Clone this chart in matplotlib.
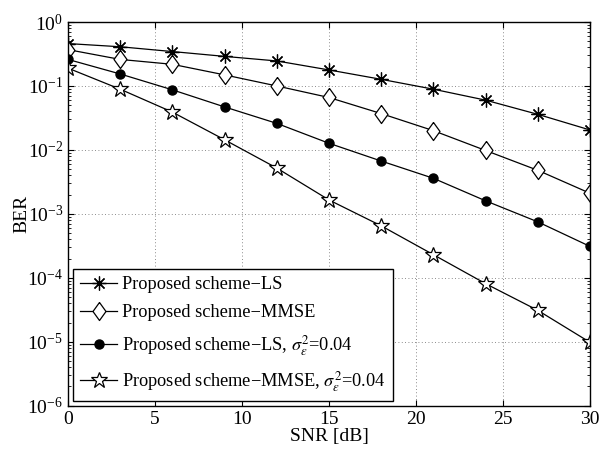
import matplotlib
matplotlib.use('Agg')
import matplotlib.pyplot as plt
import numpy as np
from matplotlib.ticker import LogLocator, NullFormatter, MultipleLocator

plt.rcParams['font.family'] = ['Liberation Serif', 'DejaVu Serif']
plt.rcParams['mathtext.fontset'] = 'stix'

# BER curves vs SNR
snr_db = [0, 3, 6, 9, 12, 15, 18, 21, 24, 27, 30]
ber_ls = [0.46, 0.41, 0.345, 0.29, 0.246, 0.178, 0.127, 0.089, 0.060, 0.036, 0.0205]
ber_mmse = [0.37, 0.26, 0.218, 0.149, 0.100, 0.066, 0.037, 0.020, 0.0098, 0.0048, 0.0021]
ber_ls_err = [0.26, 0.154, 0.087, 0.047, 0.026, 0.0127, 0.0067, 0.0036, 0.0016, 0.00075, 0.00031]
ber_mmse_err = [0.19, 0.089, 0.039, 0.0144, 0.0052, 0.00165, 0.00065, 0.00023,
                0.000081, 0.000031, 0.0000098]

labels = [
    'Proposed scheme\u2212LS',
    'Proposed scheme\u2212MMSE',
    'Proposed scheme\u2212LS, $\\sigma_{\\epsilon}^{2}$=0.04',
    'Proposed scheme\u2212MMSE, $\\sigma_{\\epsilon}^{2}$=0.04',
]

# wider diamond than matplotlib's 'd'
diamond = [(0, 1), (0.72, 0), (0, -1), (-0.72, 0), (0, 1)]

fig = plt.figure(figsize=(6.0, 4.49), dpi=100)
ax = fig.add_axes([0.1133, 0.0964, 0.87, 0.8546])

lw = 0.9
ax.semilogy(snr_db, ber_ls, color='k', lw=lw, marker=(8, 2, 0), ms=10,
            mew=0.9, label=labels[0])
ax.semilogy(snr_db, ber_mmse, color='k', lw=lw, marker=diamond, ms=13,
            mfc='white', mec='k', mew=0.9, label=labels[1])
ax.semilogy(snr_db, ber_ls_err, color='k', lw=lw, marker='o', ms=6.5,
            mfc='k', mec='k', label=labels[2])
ax.semilogy(snr_db, ber_mmse_err, color='k', lw=lw, marker='*', ms=12,
            mfc='white', mec='k', mew=0.9, label=labels[3])

ax.set_xlim(0, 30)
ax.set_ylim(1e-6, 1)
ax.xaxis.set_major_locator(MultipleLocator(5))
ax.yaxis.set_major_locator(LogLocator(base=10, numticks=10))
ax.yaxis.set_minor_locator(LogLocator(base=10, subs=np.arange(2, 10), numticks=20))
ax.yaxis.set_minor_formatter(NullFormatter())
ax.tick_params(which='both', direction='in', top=True, right=True, labelsize=14)
ax.tick_params(which='major', length=4)
ax.tick_params(which='minor', length=2)
ax.grid(True, which='major', linestyle=(0, (1, 3)), color='#666666', lw=0.6)
for s in ax.spines.values():
    s.set_linewidth(1.0)

ax.set_xlabel('SNR [dB]', fontsize=14, labelpad=0)
ax.set_ylabel('BER', fontsize=14, labelpad=-2)

leg = ax.legend(loc='lower left', bbox_to_anchor=(0.0096, 0.012), borderaxespad=0,
                fontsize=13.2, fancybox=False, edgecolor='k', framealpha=1,
                handlelength=2.0, handletextpad=0.3, borderpad=0.4,
                labelspacing=0.62)
leg.get_frame().set_linewidth(1.0)

fig.savefig('out.png', dpi=100)
